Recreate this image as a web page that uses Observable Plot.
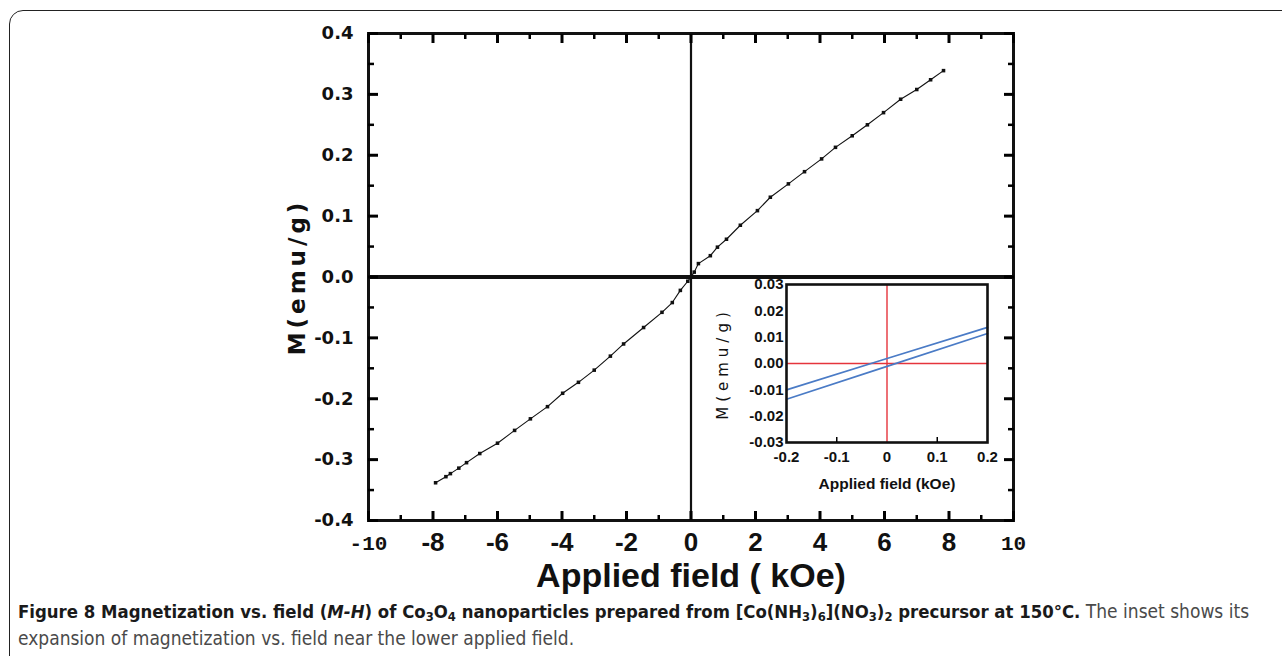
<!DOCTYPE html>
<html><head><meta charset="utf-8">
<script src="https://cdn.jsdelivr.net/npm/d3@7"></script>
<script src="https://cdn.jsdelivr.net/npm/@observablehq/plot@0.6"></script>
<style>
html,body{margin:0;padding:0;background:#fff;overflow:hidden}
#wrap{position:relative;width:1282px;height:656px;overflow:hidden;background:#fff}
#border{position:absolute;left:9px;top:10px;width:1300px;height:700px;border:1.5px solid #222;border-radius:14px;box-sizing:border-box}
#main{position:absolute;left:0;top:0}
#inset{position:absolute;left:700px;top:270px}
#caption{position:absolute;left:18px;top:598px;width:1250px;font-family:"Liberation Sans Narrow","DejaVu Sans Condensed",sans-serif;font-size:19px;line-height:27px;color:#4a4a4a;white-space:nowrap}
#caption b{color:#1a1a1a;font-size:18.4px}
#caption sub{font-size:70%;line-height:0;vertical-align:-0.25em}
</style></head>
<body><div id="wrap"><div id="border"></div><div id="main"></div><div id="inset"></div>
<div id="caption"><div class="l1"><b>Figure 8 Magnetization vs. field (<i>M-H</i>) of Co<sub>3</sub>O<sub>4</sub> nanoparticles prepared from [Co(NH<sub>3</sub>)<sub>6</sub>](NO<sub>3</sub>)<sub>2</sub> precursor at 150°C.</b> The inset shows its</div><div class="l2">expansion of magnetization vs. field near the lower applied field.</div></div>
</div>
<script>
// ---- main curve (applied field kOe, magnetization emu/g)
const fieldKOe = [-7.92,-7.6,-7.46,-7.2,-6.96,-6.55,-6.0,-5.47,-4.98,-4.45,-3.98,-3.49,-3.0,-2.5,-2.09,-1.47,-0.9,-0.58,-0.33,-0.1,0,0.1,0.23,0.6,0.82,1.1,1.53,2.06,2.46,3.02,3.52,4.05,4.48,5.0,5.47,5.97,6.5,7.0,7.43,7.83];
const magnetization = [-0.338,-0.328,-0.323,-0.314,-0.305,-0.290,-0.273,-0.252,-0.233,-0.213,-0.191,-0.173,-0.153,-0.130,-0.110,-0.083,-0.058,-0.042,-0.022,-0.007,0,0.008,0.022,0.035,0.049,0.062,0.085,0.109,0.131,0.153,0.173,0.194,0.213,0.232,0.250,0.270,0.292,0.308,0.324,0.339];

// ---- inset (two branches of the loop)
const insetField = [-0.2, 0, 0.2];
const insetUpper = [-0.0100, 0.0019, 0.0137];
const insetLower = [-0.0136, -0.0011, 0.0114];

// ---- ticks and labels
const yMajorTicks = [-0.4,-0.3,-0.2,-0.1,0,0.1,0.2,0.3,0.4];
const yTickLabels = ["-0.4","-0.3","-0.2","-0.1","0.0","0.1","0.2","0.3","0.4"];
const yMinorTicks = [-0.35,-0.25,-0.15,-0.05,0.05,0.15,0.25,0.35];
const xMajorTicks = [-10,-8,-6,-4,-2,0,2,4,6,8,10];
const xMinorTicks = [-9,-7,-5,-3,-1,1,3,5,7,9];
const xInnerLabelTicks = [-8,-6,-4,-2,0,2,4,6,8];
const xInnerLabels = ["-8","-6","-4","-2","0","2","4","6","8"];
const xOuterLabelTicks = [-10,10];
const xOuterLabels = ["-10","10"];
const xTitle = "Applied field ( kOe)";
const yTitle = "M(emu/g)";

const insetYTicks = [-0.03,-0.02,-0.01,0,0.01,0.02,0.03];
const insetYLabels = ["-0.03","-0.02","-0.01","0.00","0.01","0.02","0.03"];
const insetXTicks = [-0.2,-0.1,0,0.1,0.2];
const insetXLabels = ["-0.2","-0.1","0","0.1","0.2"];
const insetInnerTicks = [-0.1,0.1];
const insetXTitle = "Applied field (kOe)";
const insetYTitle = "M(emu/g)";

const points = fieldKOe.map((h,i)=>({h, m: magnetization[i]}));
const ink = "#111";

const main = Plot.plot({
  width: 1282, height: 600,
  marginLeft: 368, marginRight: 269, marginTop: 33, marginBottom: 80,
  style: {background: "transparent", overflow: "visible"},
  x: {domain: [-10, 10], label: null},
  y: {domain: [-0.4, 0.4], label: null},
  marks: [
    Plot.ruleX([0], {stroke: ink, strokeWidth: 2.2}),
    Plot.ruleY([0], {stroke: ink, strokeWidth: 4}),
    Plot.line(points, {x: "h", y: "m", stroke: ink, strokeWidth: 1.1}),
    Plot.dot(points, {x: "h", y: "m", symbol: "square", r: 2, fill: ink, stroke: null}),
    Plot.frame({stroke: ink, strokeWidth: 3}),
    // inward ticks
    Plot.axisY(yMajorTicks, {anchor: "left", tickSize: -10, strokeWidth: 3, tickFormat: () => "", label: null}),
    Plot.axisY(yMinorTicks, {anchor: "left", tickSize: -6, strokeWidth: 2.5, tickFormat: () => "", label: null}),
    Plot.axisY(yMajorTicks, {anchor: "right", tickSize: -10, strokeWidth: 3, tickFormat: () => "", label: null}),
    Plot.axisY(yMinorTicks, {anchor: "right", tickSize: -6, strokeWidth: 2.5, tickFormat: () => "", label: null}),
    Plot.axisX(xMajorTicks, {anchor: "bottom", tickSize: -9, strokeWidth: 3, tickFormat: () => "", label: null}),
    Plot.axisX(xMinorTicks, {anchor: "bottom", tickSize: -5, strokeWidth: 2.5, tickFormat: () => "", label: null}),
    Plot.axisX(xMajorTicks, {anchor: "top", tickSize: -9, strokeWidth: 3, tickFormat: () => "", label: null}),
    Plot.axisX(xMinorTicks, {anchor: "top", tickSize: -5, strokeWidth: 2.5, tickFormat: () => "", label: null}),
    // labels
    Plot.axisY(yMajorTicks, {anchor: "left", tickSize: 0, tickPadding: 15, tickFormat: (d, i) => yTickLabels[i], fontSize: 18, fontWeight: "bold", fontFamily: "DejaVu Sans", fill: ink, label: null}),
    Plot.axisX(xInnerLabelTicks, {anchor: "bottom", tickSize: 0, tickPadding: 12, tickFormat: (d, i) => xInnerLabels[i], fontSize: 26, fontWeight: "bold", fontFamily: "Liberation Sans Narrow, Liberation Sans, sans-serif", fill: ink, label: null}),
    Plot.axisX(xOuterLabelTicks, {anchor: "bottom", tickSize: 0, tickPadding: 15, tickFormat: (d, i) => xOuterLabels[i], fontSize: 21, fontWeight: "bold", fontFamily: "Liberation Mono, DejaVu Sans Mono, monospace", fill: ink, label: null}),
    Plot.text([xTitle], {text: d => d, frameAnchor: "bottom", dy: 66, fontSize: 34, fontWeight: "bold", fontFamily: "Liberation Sans Narrow, Liberation Sans, sans-serif", fill: ink}),
    Plot.text([yTitle], {text: d => d, frameAnchor: "left", textAnchor: "middle", dx: -71, rotate: -90, fontSize: 23, fontWeight: "bold", fontFamily: "DejaVu Sans", fill: ink})
  ]
});
d3.select(main).selectAll("text").filter(function(){ return this.textContent === yTitle; }).style("letter-spacing", "4px");
document.getElementById("main").appendChild(main);

const upper = insetField.map((h,i)=>({h, m: insetUpper[i]}));
const lower = insetField.map((h,i)=>({h, m: insetLower[i]}));
const inset = Plot.plot({
  width: 310, height: 230,
  marginLeft: 86, marginRight: 23, marginTop: 14, marginBottom: 58,
  style: {background: "transparent", overflow: "visible"},
  x: {domain: [-0.2, 0.2], label: null},
  y: {domain: [-0.03, 0.03], label: null},
  marks: [
    Plot.ruleX([0], {stroke: "#e5343c", strokeWidth: 1.4}),
    Plot.ruleY([0], {stroke: "#e5343c", strokeWidth: 1.4}),
    Plot.line(upper, {x: "h", y: "m", stroke: "#4a7bc6", strokeWidth: 1.7}),
    Plot.line(lower, {x: "h", y: "m", stroke: "#4a7bc6", strokeWidth: 1.7}),
    Plot.frame({stroke: ink, strokeWidth: 2.6}),
    Plot.axisX(insetInnerTicks, {anchor: "bottom", tickSize: -5, strokeWidth: 1.5, tickFormat: () => "", label: null}),
    Plot.axisY(insetYTicks, {anchor: "left", tickSize: 0, tickPadding: 3, tickFormat: (d, i) => insetYLabels[i], fontSize: 15, fontWeight: "bold", fontFamily: "Liberation Sans", fill: ink, label: null}),
    Plot.axisX(insetXTicks, {anchor: "bottom", tickSize: 0, tickPadding: 9, tickFormat: (d, i) => insetXLabels[i], fontSize: 15, fontWeight: "bold", fontFamily: "Liberation Sans", fill: ink, label: null}),
    Plot.text([insetXTitle], {text: d => d, frameAnchor: "bottom", dy: 46, fontSize: 15.5, fontWeight: "bold", fontFamily: "Liberation Sans", fill: ink}),
    Plot.text([insetYTitle], {text: d => d, frameAnchor: "left", textAnchor: "middle", dx: -63, rotate: -90, fontSize: 15, fontWeight: "normal", fontFamily: "DejaVu Sans", fill: ink})
  ]
});
d3.select(inset).selectAll("text").filter(function(){ return this.textContent === insetYTitle; }).style("letter-spacing", "5px");
document.getElementById("inset").appendChild(inset);
</script>
</body></html>
